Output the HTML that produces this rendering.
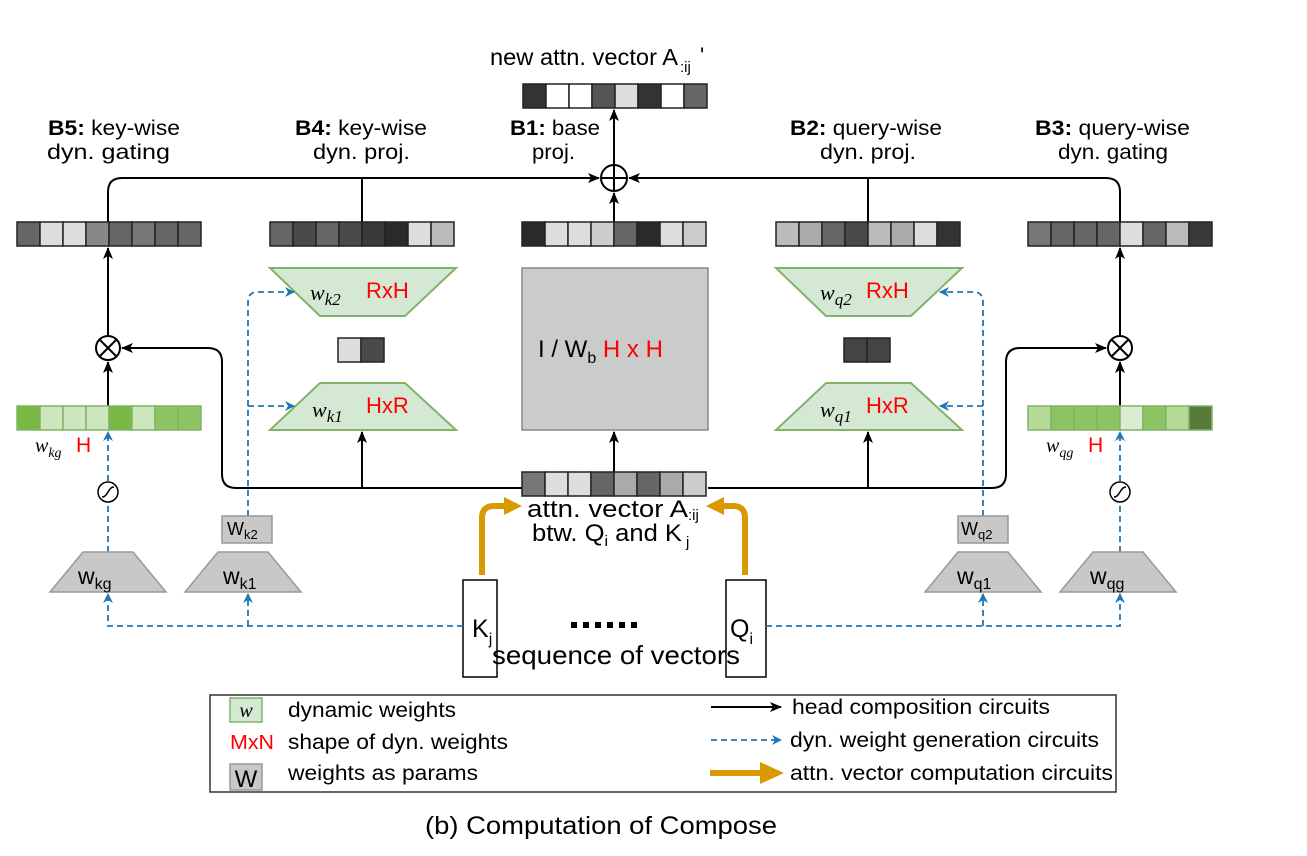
<!DOCTYPE html>
<html><head><meta charset="utf-8"><style>
body{margin:0;background:#fff}
svg{display:block}
text{font-family:"Liberation Sans",Arial,sans-serif;fill:#000}
.it{font-family:"Liberation Serif",serif;font-style:italic}
.r{fill:#f00}
</style></head><body>
<svg width="1307" height="856" viewBox="0 0 1307 856" xmlns="http://www.w3.org/2000/svg">
<defs>
<marker id="ab" markerWidth="12" markerHeight="12" refX="11" refY="6" orient="auto" markerUnits="userSpaceOnUse"><path d="M0,1 L12,6 L0,11 L3,6 z" fill="#000"/></marker>
<marker id="bl" markerWidth="10" markerHeight="10" refX="9" refY="5" orient="auto" markerUnits="userSpaceOnUse"><path d="M0,0 L10,5 L0,10 L3,5 z" fill="#1f77b4"/></marker>
</defs>

<text x="490" y="65" font-size="23" textLength="188" lengthAdjust="spacingAndGlyphs">new attn. vector A</text>
<text x="680" y="72" font-size="15">:ij</text>
<text x="700" y="63" font-size="22">'</text>
<g stroke="#222" stroke-width="1.5">
<rect x="523" y="84" width="23" height="24" fill="#333"/><rect x="546" y="84" width="23" height="24" fill="#fff"/><rect x="569" y="84" width="23" height="24" fill="#fff"/><rect x="592" y="84" width="23" height="24" fill="#555"/><rect x="615" y="84" width="23" height="24" fill="#ddd"/><rect x="638" y="84" width="23" height="24" fill="#333"/><rect x="661" y="84" width="23" height="24" fill="#fff"/><rect x="684" y="84" width="23" height="24" fill="#666"/>
</g>

<g font-size="21">
<text x="48" y="135" textLength="132" lengthAdjust="spacingAndGlyphs"><tspan font-weight="bold">B5:</tspan> key-wise</text>
<text x="47" y="159" textLength="123" lengthAdjust="spacingAndGlyphs">dyn. gating</text>
<text x="295" y="135" textLength="132" lengthAdjust="spacingAndGlyphs"><tspan font-weight="bold">B4:</tspan> key-wise</text>
<text x="313" y="159" textLength="97" lengthAdjust="spacingAndGlyphs">dyn. proj.</text>
<text x="510" y="135" textLength="90" lengthAdjust="spacingAndGlyphs"><tspan font-weight="bold">B1:</tspan> base</text>
<text x="532" y="159" textLength="43" lengthAdjust="spacingAndGlyphs">proj.</text>
<text x="790" y="135" textLength="152" lengthAdjust="spacingAndGlyphs"><tspan font-weight="bold">B2:</tspan> query-wise</text>
<text x="820" y="159" textLength="96" lengthAdjust="spacingAndGlyphs">dyn. proj.</text>
<text x="1035" y="135" textLength="155" lengthAdjust="spacingAndGlyphs"><tspan font-weight="bold">B3:</tspan> query-wise</text>
<text x="1058" y="159" textLength="110" lengthAdjust="spacingAndGlyphs">dyn. gating</text>
</g>

<circle cx="614" cy="178" r="13" fill="#fff" stroke="#000" stroke-width="2"/>
<path d="M601,178 H627 M614,165 V191" stroke="#000" stroke-width="2"/>
<line x1="614" y1="165" x2="614" y2="110" stroke="#000" stroke-width="2" marker-end="url(#ab)"/>
<line x1="614" y1="222" x2="614" y2="193" stroke="#000" stroke-width="2" marker-end="url(#ab)"/>
<path d="M108,222 V192 Q108,178 122,178 H599" fill="none" stroke="#000" stroke-width="2" marker-end="url(#ab)"/>
<path d="M1120,222 V192 Q1120,178 1106,178 H629" fill="none" stroke="#000" stroke-width="2" marker-end="url(#ab)"/>
<line x1="362" y1="178" x2="362" y2="222" stroke="#000" stroke-width="2"/>
<line x1="868" y1="178" x2="868" y2="222" stroke="#000" stroke-width="2"/>

<g stroke="#222" stroke-width="1.5">
<rect x="17" y="222" width="23" height="24" fill="#666"/><rect x="40" y="222" width="23" height="24" fill="#ddd"/><rect x="63" y="222" width="23" height="24" fill="#ddd"/><rect x="86" y="222" width="23" height="24" fill="#888"/><rect x="109" y="222" width="23" height="24" fill="#666"/><rect x="132" y="222" width="23" height="24" fill="#777"/><rect x="155" y="222" width="23" height="24" fill="#666"/><rect x="178" y="222" width="23" height="24" fill="#666"/>
<rect x="270" y="222" width="23" height="24" fill="#666"/><rect x="293" y="222" width="23" height="24" fill="#4a4a4a"/><rect x="316" y="222" width="23" height="24" fill="#666"/><rect x="339" y="222" width="23" height="24" fill="#4a4a4a"/><rect x="362" y="222" width="23" height="24" fill="#3a3a3a"/><rect x="385" y="222" width="23" height="24" fill="#2a2a2a"/><rect x="408" y="222" width="23" height="24" fill="#ddd"/><rect x="431" y="222" width="23" height="24" fill="#bbb"/>
<rect x="522" y="222" width="23" height="24" fill="#2a2a2a"/><rect x="545" y="222" width="23" height="24" fill="#ddd"/><rect x="568" y="222" width="23" height="24" fill="#ddd"/><rect x="591" y="222" width="23" height="24" fill="#ccc"/><rect x="614" y="222" width="23" height="24" fill="#666"/><rect x="637" y="222" width="23" height="24" fill="#2a2a2a"/><rect x="660" y="222" width="23" height="24" fill="#ddd"/><rect x="683" y="222" width="23" height="24" fill="#ccc"/>
<rect x="776" y="222" width="23" height="24" fill="#bbb"/><rect x="799" y="222" width="23" height="24" fill="#aaa"/><rect x="822" y="222" width="23" height="24" fill="#666"/><rect x="845" y="222" width="23" height="24" fill="#4a4a4a"/><rect x="868" y="222" width="23" height="24" fill="#bbb"/><rect x="891" y="222" width="23" height="24" fill="#aaa"/><rect x="914" y="222" width="23" height="24" fill="#ddd"/><rect x="937" y="222" width="23" height="24" fill="#333"/>
<rect x="1028" y="222" width="23" height="24" fill="#777"/><rect x="1051" y="222" width="23" height="24" fill="#666"/><rect x="1074" y="222" width="23" height="24" fill="#666"/><rect x="1097" y="222" width="23" height="24" fill="#666"/><rect x="1120" y="222" width="23" height="24" fill="#ddd"/><rect x="1143" y="222" width="23" height="24" fill="#666"/><rect x="1166" y="222" width="23" height="24" fill="#bbb"/><rect x="1189" y="222" width="23" height="24" fill="#3a3a3a"/>
</g>

<rect x="522" y="268" width="186" height="162" fill="#cbcbcb" stroke="#888" stroke-width="1.5"/>
<text x="538" y="357" font-size="24">I / W<tspan font-size="16" dy="6">b</tspan><tspan dy="-6" class="r"> H x H</tspan></text>
<line x1="614" y1="472" x2="614" y2="432" stroke="#000" stroke-width="2" marker-end="url(#ab)"/>

<g fill="#d5e8d4" stroke="#82b366" stroke-width="2">
<path d="M270,268 H456 L405,316 H320 Z"/><path d="M320,383 H405 L456,430 H270 Z"/>
<path d="M776,268 H962 L911,316 H826 Z"/><path d="M826,383 H911 L962,430 H776 Z"/>
</g>
<text x="310" y="300" font-size="22" class="it">w<tspan font-size="17" dy="5">k2</tspan></text><text x="366" y="298" font-size="22" class="r">RxH</text>
<text x="312" y="417" font-size="22" class="it">w<tspan font-size="17" dy="5">k1</tspan></text><text x="366" y="413" font-size="22" class="r">HxR</text>
<text x="820" y="300" font-size="22" class="it">w<tspan font-size="17" dy="5">q2</tspan></text><text x="866" y="298" font-size="22" class="r">RxH</text>
<text x="820" y="417" font-size="22" class="it">w<tspan font-size="17" dy="5">q1</tspan></text><text x="866" y="413" font-size="22" class="r">HxR</text>
<g stroke="#222" stroke-width="1.5">
<rect x="338" y="338" width="23" height="24" fill="#ddd"/><rect x="361" y="338" width="23" height="24" fill="#4a4a4a"/>
<rect x="844" y="338" width="23" height="24" fill="#444"/><rect x="867" y="338" width="23" height="24" fill="#444"/>
</g>

<g stroke="#000" stroke-width="2" fill="#fff">
<circle cx="108" cy="348" r="12"/><circle cx="1120" cy="348" r="12"/>
<path d="M99.5,339.5 L116.5,356.5 M116.5,339.5 L99.5,356.5 M1111.5,339.5 L1128.5,356.5 M1128.5,339.5 L1111.5,356.5"/>
</g>
<line x1="108" y1="336" x2="108" y2="248" stroke="#000" stroke-width="2" marker-end="url(#ab)"/>
<line x1="1120" y1="336" x2="1120" y2="248" stroke="#000" stroke-width="2" marker-end="url(#ab)"/>
<line x1="108" y1="406" x2="108" y2="362" stroke="#000" stroke-width="2" marker-end="url(#ab)"/>
<line x1="1120" y1="406" x2="1120" y2="362" stroke="#000" stroke-width="2" marker-end="url(#ab)"/>

<g stroke="#82b366" stroke-width="1.5">
<rect x="17" y="406" width="23" height="24" fill="#7ab844"/><rect x="40" y="406" width="23" height="24" fill="#cde6bd"/><rect x="63" y="406" width="23" height="24" fill="#cde6bd"/><rect x="86" y="406" width="23" height="24" fill="#cde6bd"/><rect x="109" y="406" width="23" height="24" fill="#7ab844"/><rect x="132" y="406" width="23" height="24" fill="#cde6bd"/><rect x="155" y="406" width="23" height="24" fill="#8cc464"/><rect x="178" y="406" width="23" height="24" fill="#8cc464"/>
<rect x="1028" y="406" width="23" height="24" fill="#b5dc97"/><rect x="1051" y="406" width="23" height="24" fill="#8cc464"/><rect x="1074" y="406" width="23" height="24" fill="#8cc464"/><rect x="1097" y="406" width="23" height="24" fill="#8cc464"/><rect x="1120" y="406" width="23" height="24" fill="#dcecd0"/><rect x="1143" y="406" width="23" height="24" fill="#8cc464"/><rect x="1166" y="406" width="23" height="24" fill="#b5dc97"/><rect x="1189" y="406" width="23" height="24" fill="#587a3a"/>
</g>
<text x="35" y="452" font-size="20" class="it">w<tspan font-size="14" dy="5">kg</tspan></text><text x="76" y="452" font-size="21" class="r">H</text>
<text x="1046" y="452" font-size="20" class="it">w<tspan font-size="14" dy="5">qg</tspan></text><text x="1088" y="452" font-size="21" class="r">H</text>

<path d="M522,488 H236 Q222,488 222,474 V362 Q222,348 208,348 H122" fill="none" stroke="#000" stroke-width="2" marker-end="url(#ab)"/>
<path d="M708,488 H992 Q1006,488 1006,474 V362 Q1006,348 1020,348 H1106" fill="none" stroke="#000" stroke-width="2" marker-end="url(#ab)"/>
<line x1="362" y1="488" x2="362" y2="432" stroke="#000" stroke-width="2" marker-end="url(#ab)"/>
<line x1="868" y1="488" x2="868" y2="432" stroke="#000" stroke-width="2" marker-end="url(#ab)"/>

<g stroke="#222" stroke-width="1.5">
<rect x="522" y="472" width="23" height="24" fill="#777"/><rect x="545" y="472" width="23" height="24" fill="#ddd"/><rect x="568" y="472" width="23" height="24" fill="#ddd"/><rect x="591" y="472" width="23" height="24" fill="#666"/><rect x="614" y="472" width="23" height="24" fill="#aaa"/><rect x="637" y="472" width="23" height="24" fill="#666"/><rect x="660" y="472" width="23" height="24" fill="#aaa"/><rect x="683" y="472" width="23" height="24" fill="#ccc"/>
</g>
<text x="527" y="517" font-size="24" textLength="161" lengthAdjust="spacingAndGlyphs">attn. vector A</text><text x="688" y="520" font-size="15">:ij</text>
<text x="532" y="541" font-size="24" textLength="150" lengthAdjust="spacingAndGlyphs">btw. Q<tspan font-size="15" dy="5">i</tspan><tspan dy="-5"> and K</tspan></text><text x="686" y="547" font-size="15">j</text>

<path d="M482,575 V518 Q482,506 494,506 H506" fill="none" stroke="#d89a00" stroke-width="6"/>
<path d="M504,497 L522,506 L504,515 Z" fill="#d89a00"/>
<path d="M745,575 V518 Q745,506 733,506 H722" fill="none" stroke="#d89a00" stroke-width="6"/>
<path d="M724,497 L706,506 L724,515 Z" fill="#d89a00"/>

<rect x="463" y="580" width="34" height="97" fill="#fff" stroke="#000" stroke-width="1.5"/>
<rect x="726" y="580" width="40" height="97" fill="#fff" stroke="#000" stroke-width="1.5"/>
<text x="472" y="637" font-size="25">K<tspan font-size="16" dy="7">j</tspan></text>
<text x="730" y="637" font-size="25">Q<tspan font-size="16" dy="7">i</tspan></text>
<g fill="#000"><rect x="571" y="622" width="6" height="6"/><rect x="583" y="622" width="6" height="6"/><rect x="595" y="622" width="6" height="6"/><rect x="607" y="622" width="6" height="6"/><rect x="619" y="622" width="6" height="6"/><rect x="631" y="622" width="6" height="6"/></g>
<text x="492" y="664" font-size="26" textLength="248" lengthAdjust="spacingAndGlyphs">sequence of vectors</text>

<g fill="none" stroke="#1f77b4" stroke-width="1.8" stroke-dasharray="6,4">
<path d="M463,626 H108 V594" marker-end="url(#bl)"/>
<path d="M248,626 V594" marker-end="url(#bl)"/>
<path d="M766,626 H1120 V594" marker-end="url(#bl)"/>
<path d="M983,626 V594" marker-end="url(#bl)"/>
<path d="M108,552 V503"/>
<path d="M108,481 V432" marker-end="url(#bl)"/>
<path d="M1120,552 V503"/>
<path d="M1120,481 V432" marker-end="url(#bl)"/>
<path d="M248,516 V302 Q248,292 258,292 H294" marker-end="url(#bl)"/>
<path d="M248,406 H294" marker-end="url(#bl)"/>
<path d="M983,516 V302 Q983,292 973,292 H940" marker-end="url(#bl)"/>
<path d="M983,406 H940" marker-end="url(#bl)"/>
</g>

<g fill="#fff" stroke="#000" stroke-width="1.5">
<circle cx="108" cy="492" r="10"/><circle cx="1120" cy="492" r="10"/>
</g>
<path d="M102,497 C108,497 108,487 114,487" fill="none" stroke="#000" stroke-width="1.5"/>
<path d="M1114,497 C1120,497 1120,487 1126,487" fill="none" stroke="#000" stroke-width="1.5"/>

<g fill="#c8c8c8" stroke="#999" stroke-width="1.5">
<path d="M83,552 H133 L166,592 H50 Z"/>
<path d="M218,552 H268 L301,592 H185 Z"/>
<path d="M958,552 H1008 L1041,592 H925 Z"/>
<path d="M1093,552 H1143 L1176,592 H1060 Z"/>
<rect x="222" y="516" width="50" height="27"/>
<rect x="958" y="516" width="50" height="27"/>
</g>
<g font-size="23">
<text x="78" y="584">w<tspan font-size="16" dy="5">kg</tspan></text>
<text x="223" y="584">w<tspan font-size="16" dy="5">k1</tspan></text>
<text x="957" y="584">w<tspan font-size="16" dy="5">q1</tspan></text>
<text x="1090" y="584">w<tspan font-size="16" dy="5">qg</tspan></text>
<text x="227" y="535" font-size="18">W<tspan font-size="13" dy="4">k2</tspan></text>
<text x="961" y="535" font-size="18">W<tspan font-size="13" dy="4">q2</tspan></text>
</g>

<rect x="210" y="695" width="906" height="97" fill="#fff" stroke="#333" stroke-width="1.5"/>
<rect x="230" y="698" width="32" height="24" fill="#d5e8d4" stroke="#82b366" stroke-width="1.5"/>
<text x="246" y="717" font-size="20" class="it" text-anchor="middle">w</text>
<text x="288" y="717" font-size="21" textLength="168" lengthAdjust="spacingAndGlyphs">dynamic weights</text>
<text x="230" y="749" font-size="20" class="r" textLength="44" lengthAdjust="spacingAndGlyphs">MxN</text>
<text x="288" y="749" font-size="21" textLength="220" lengthAdjust="spacingAndGlyphs">shape of dyn. weights</text>
<rect x="230" y="764" width="32" height="26" fill="#c8c8c8" stroke="#999" stroke-width="1.5"/>
<text x="246" y="787" font-size="24" text-anchor="middle">W</text>
<text x="288" y="780" font-size="21" textLength="190" lengthAdjust="spacingAndGlyphs">weights as params</text>
<line x1="711" y1="707" x2="781" y2="707" stroke="#000" stroke-width="2" marker-end="url(#ab)"/>
<text x="792" y="714" font-size="21" textLength="258" lengthAdjust="spacingAndGlyphs">head composition circuits</text>
<line x1="711" y1="740" x2="781" y2="740" stroke="#1f77b4" stroke-width="1.8" stroke-dasharray="6,4" marker-end="url(#bl)"/>
<text x="790" y="747" font-size="21" textLength="309" lengthAdjust="spacingAndGlyphs">dyn. weight generation circuits</text>
<line x1="710" y1="773" x2="762" y2="773" stroke="#d89a00" stroke-width="6"/>
<path d="M760,762 L784,773 L760,784 Z" fill="#d89a00"/>
<text x="790" y="780" font-size="21" textLength="323" lengthAdjust="spacingAndGlyphs">attn. vector computation circuits</text>

<text x="425" y="834" font-size="25" textLength="352" lengthAdjust="spacingAndGlyphs">(b) Computation of Compose</text>
</svg>
</body></html>
